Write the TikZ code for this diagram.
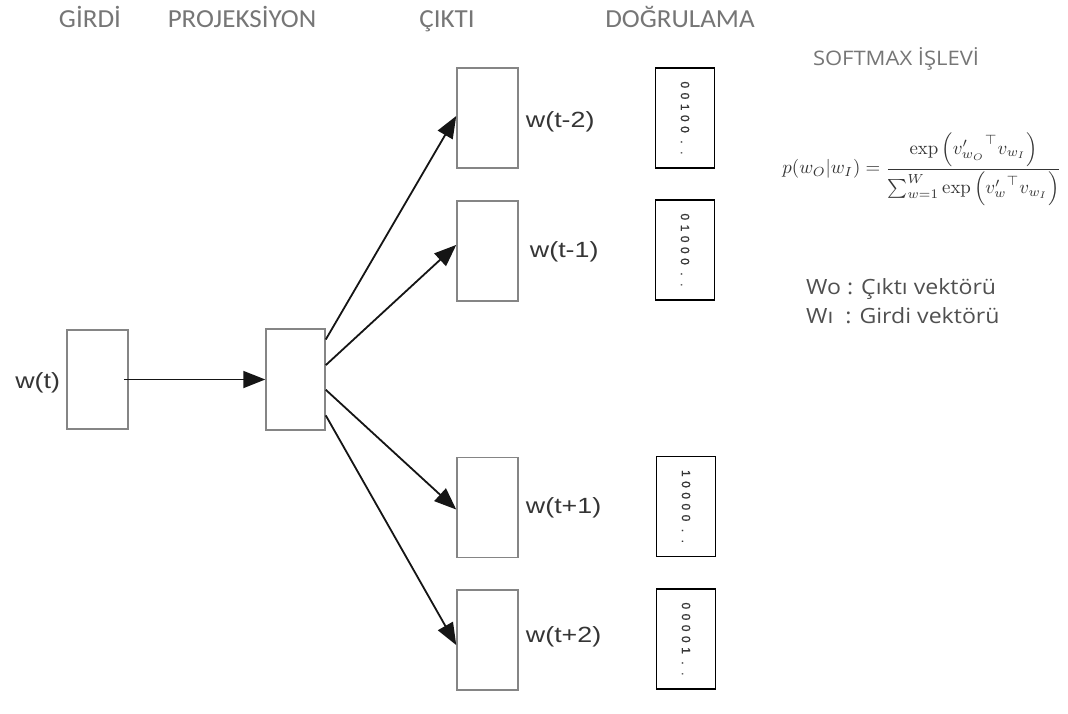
\documentclass[tikz,border=0pt]{standalone}
\usepackage{amsmath}
\usepackage{graphicx}
\usepackage{fontspec}
\usetikzlibrary{arrows.meta,calc}

% Fonts for the word labels, the column headers, the notes and the one-hot digits
\newfontfamily\labelfont[FakeStretch=1.22]{Liberation Sans}
\newfontfamily\headfont[FakeStretch=1.04]{Carlito}
\newfontfamily\notefont[FakeStretch=1.1]{Open Sans}
\newfontfamily\digitfont[FakeBold=1.2]{Liberation Sans}

\definecolor{boxgray}{HTML}{858585}
\definecolor{labelgray}{HTML}{353535}
\definecolor{headgray}{HTML}{767676}
\definecolor{notegray}{HTML}{505050}
\definecolor{arrowblack}{HTML}{151515}

% spacing between the digits of a one-hot column
\newcommand{\dgap}{\kern4.5pt}
\newcommand{\dotgap}{\kern7.5pt}

\tikzset{
  unit/.style={draw=boxgray, line width=1.5pt, minimum width=61pt,
    minimum height=100pt, inner sep=0pt, fill=white},
  onehot/.style={draw=black, line width=1.9pt, minimum width=59pt,
    minimum height=100pt, inner sep=0pt},
  wlabel/.style={font=\labelfont\fontsize{22}{22}\selectfont,
    text=labelgray, inner sep=0pt},
  header/.style={font=\headfont\fontsize{26}{26}\selectfont,
    text=headgray, inner sep=0pt, anchor=base},
  note/.style={font=\notefont\fontsize{21}{21}\selectfont,
    text=notegray, inner sep=0pt, anchor=base west},
  digits/.style={font=\digitfont\fontsize{12}{12}\selectfont,
    rotate=-90, text=labelgray, inner sep=0pt},
  flow/.style={draw=arrowblack, line width=1.8pt,
    -{Triangle[length=22pt,width=17pt]}},
}

\begin{document}
\begin{tikzpicture}[x=1pt,y=-1pt]
  \useasboundingbox[fill=white] (0,0) rectangle (1068,713);

  % column headers
  \node[header] (hin)   at (90,27)  {GİRDİ};
  \node[header] (hproj) at (242,27) {PROJEKSİYON};
  \node[header] (hout)  at (447,27) {ÇIKTI};
  \node[header] (hval)  at (680,27) {DOĞRULAMA};

  % input and projection layers
  \node[unit, minimum height=99pt] (in) at (97.5,379.5) {};
  \node[unit, minimum width=59pt, minimum height=101pt] (proj) at (295.5,379.5) {};

  % output context words
  \node[unit] (o1) at (487.5,118) {};
  \node[unit] (o2) at (487.5,251) {};
  \node[unit] (o3) at (487.5,507.5) {};
  \node[unit] (o4) at (487.5,640) {};

  % one-hot validation vectors
  \node[onehot] (v1) at (685,118) {};
  \node[onehot] (v2) at (685,250) {};
  \node[onehot] (v3) at (686,506.5) {};
  \node[onehot] (v4) at (686,639) {};
  \node[digits] (d1) at (v1) {0\dgap0\dgap1\dgap0\dgap0\dotgap.\dotgap.};
  \node[digits] (d2) at (v2) {0\dgap1\dgap0\dgap0\dgap0\dotgap.\dotgap.};
  \node[digits] (d3) at (v3) {1\dgap0\dgap0\dgap0\dgap0\dotgap.\dotgap.};
  \node[digits] (d4) at (v4) {0\dgap0\dgap0\dgap0\dgap1\dotgap.\dotgap.};

  % word labels
  \node[wlabel, anchor=east] (lin) at ([xshift=-6pt,yshift=-3pt]in.west) {w(t)};
  \node[wlabel, anchor=west] (l1) at ([xshift=7pt,yshift=-4pt]o1.east) {w(t-2)};
  \node[wlabel, anchor=west] (l2) at ([xshift=11pt,yshift=-1pt]o2.east) {w(t-1)};
  \node[wlabel, anchor=west] (l3) at ([xshift=7pt]o3.east) {w(t+1)};
  \node[wlabel, anchor=west] (l4) at ([xshift=7pt,yshift=3pt]o4.east) {w(t+2)};

  % connections
  \draw[flow] ([xshift=-5pt]in.east) -- (proj.west);
  \draw[flow] ($(proj.north east)!0.11!(proj.south east)$) -- ($(o1.north west)!0.48!(o1.south west)$);
  \draw[flow] ($(proj.north east)!0.36!(proj.south east)$) -- ($(o2.north west)!0.44!(o2.south west)$);
  \draw[flow] ($(proj.north east)!0.60!(proj.south east)$) -- ($(o3.north west)!0.52!(o3.south west)$);
  \draw[flow] ($(proj.north east)!0.85!(proj.south east)$) -- ($(o4.north west)!0.55!(o4.south west)$);

  % softmax definition
  \node[header, font=\notefont\fontsize{20}{20}\selectfont, text=headgray] (hsoft) at (896,65) {SOFTMAX İŞLEVİ};
  \node[text=labelgray, inner sep=0pt] (formula) at (922,169)
    {\resizebox{279pt}{!}{$\displaystyle p(w_O|w_I)=\frac{\exp\left({v'_{w_O}}^{\top}v_{w_I}\right)}{\sum_{w=1}^{W}\exp\left({v'_{w}}^{\top}v_{w_I}\right)}$}};

  % notation
  \node[note] (nout) at (806,294) {Wo : Çıktı vektörü};
  \node[note] (nin)  at (806,323) {Wı\ \ : Girdi vektörü};
\end{tikzpicture}
\end{document}
